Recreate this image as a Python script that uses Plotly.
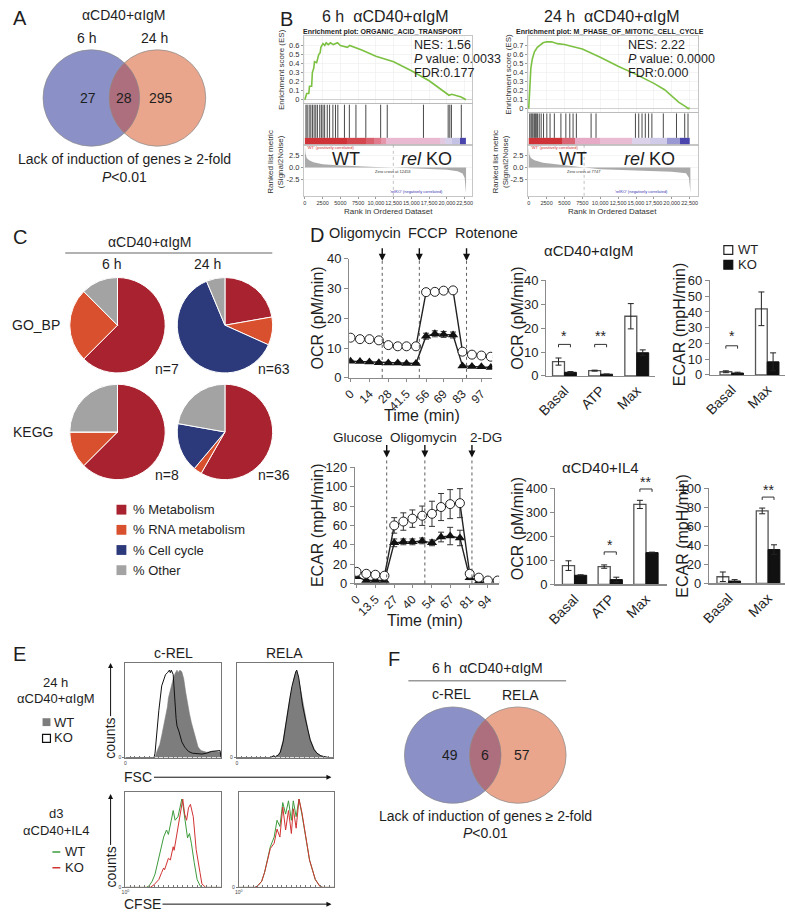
import numpy as np
import plotly.graph_objects as go

W, H = 785, 920
FONT = "Liberation Sans, Arial, Helvetica, sans-serif"
NARROW = "Liberation Sans Narrow, Liberation Sans, Arial, sans-serif"
INK = "#1e1e1e"
AXC = "#8a8a8a"

# ======================= DATA =======================
# (A) Venn
a_title = "αCD40+αIgM"
a_sets = ["6 h", "24 h"]
a_counts = [27, 28, 295]
venn_caption = ["Lack of induction of genes ≥ 2-fold", "<i>P</i><0.01"]

# (B) GSEA left
b1_title = "6 h  αCD40+αIgM"
b1_set = "Enrichment plot: ORGANIC_ACID_TRANSPORT"
b1_stats = ["NES: 1.56", "<i>P</i> value: 0.0033", "FDR:0.177"]
b1_rank = [0, 250, 550, 650, 950, 1050, 1250, 1350, 1650, 1750, 1950, 2150, 2250, 2550, 2800,
           3000, 3300, 3600, 4000, 4600, 5000, 6000, 6300, 8000, 10000, 12500, 15000, 17500,
           19500, 20300, 20700, 22000, 22700]
b1_es = [0, 0.07, 0.07, 0.15, 0.15, 0.30, 0.35, 0.42, 0.41, 0.45, 0.50, 0.52, 0.58, 0.62, 0.60,
         0.63, 0.61, 0.63, 0.61, 0.63, 0.60, 0.58, 0.60, 0.55, 0.48, 0.42, 0.32, 0.21,
         0.10, 0.05, 0.06, 0.03, 0.0]
b1_hits = [150, 320, 600, 830, 1060, 1300, 1530, 1760, 2090, 2320, 2550, 2780, 3150, 3480, 3940,
           4310, 4640, 5570, 6260, 7190, 8580, 10670, 11600, 16700, 20180, 20410, 20640, 22030]
b1_mrank = [0, 80, 250, 600, 1200, 2500, 5000, 7500, 10000, 12453, 15000, 17500, 20000, 21500,
            22200, 22500, 22650, 22700]
b1_metric = [4.5, 3.0, 2.0, 1.5, 1.1, 0.7, 0.4, 0.2, 0.08, 0.0, -0.15, -0.3, -0.5, -0.8,
             -1.3, -2.2, -4.5, -5.5]
b1_zero = 12453
b1_es_ticks = [0, 0.1, 0.2, 0.3, 0.4, 0.5, 0.6]

# (B) GSEA right
b2_title = "24 h  αCD40+αIgM"
b2_set = "Enrichment plot: M_PHASE_OF_MITOTIC_CELL_CYCLE"
b2_stats = ["NES: 2.22", "<i>P</i> value: 0.0000", "FDR:0.000"]
b2_rank = [0, 150, 300, 500, 800, 1200, 1600, 2000, 2500, 3200, 4000, 5000, 6500, 7500, 10000,
           12500, 15000, 17500, 19000, 20000, 21000, 22000, 22300, 22500]
b2_es = [0, 0.30, 0.45, 0.55, 0.63, 0.68, 0.71, 0.73, 0.74, 0.74, 0.72, 0.71, 0.68, 0.66, 0.57,
         0.47, 0.38, 0.28, 0.21, 0.14, 0.07, 0.02, 0.0, 0.01]
b2_hits = [140, 320, 460, 600, 780, 920, 1060, 1240, 1470, 1740, 2070, 2530, 2980, 3580, 4500,
           5190, 5740, 6200, 6660, 8720, 9410, 14920, 15380, 15840, 16300, 16760, 17220, 18820,
           20660, 21810, 22270]
b2_mrank = [0, 80, 300, 800, 2000, 4000, 6000, 7747, 10000, 15000, 20000, 22000, 22400, 22550, 22600]
b2_metric = [4.5, 2.8, 2.0, 1.5, 1.0, 0.6, 0.25, 0.0, -0.4, -0.7, -0.9, -1.2, -2.2, -4.5, -5.5]
b2_zero = 7747
b2_es_ticks = [0, 0.1, 0.2, 0.3, 0.4, 0.5, 0.6, 0.7]

gsea_xticks = [0, 2500, 5000, 7500, 10000, 12500, 15000, 17500, 20000, 22500]
gsea_xlabels = ["0", "2500", "5000", "7500", "10,000", "12,500", "15,000", "17,500", "20,000", "22,500"]
metric_ticks = [2.5, 0.0, -2.5]
metric_labels = ["2.5", "0.0", "-2.5"]

# (C) pies
pie_title = "αCD40+αIgM"
pie_labels = ["% Metabolism", "% RNA metabolism", "% Cell cycle", "% Other"]
pie_gobp_6h = [62.5, 25.0, 0.0, 12.5]
pie_gobp_24h = [22.2, 9.5, 61.9, 6.3]
pie_kegg_6h = [62.5, 12.5, 0.0, 25.0]
pie_kegg_24h = [58.3, 2.8, 16.7, 22.2]
pie_n = ["n=7", "n=63", "n=8", "n=36"]
pie_rows = ["GO_BP", "KEGG"]
pie_cols = ["6 h", "24 h"]

# (D) Seahorse traces
ocr_time = [0, 7, 14, 21, 28, 35, 41.5, 48.5, 56, 62.5, 69, 76, 83, 90, 97, 104]
ocr_ticks = [0, 14, 28, 41.5, 56, 69, 83, 97]
ocr_wt = [13.5, 13.0, 13.0, 12.6, 11.0, 10.6, 10.6, 10.6, 28.8, 28.9, 29.3, 29.4, 8.8, 7.8, 7.5, 7.1]
ocr_wt_err = [0.5, 0.4, 0.4, 0.4, 0.4, 0.4, 0.4, 0.4, 0.8, 0.6, 0.8, 0.9, 0.5, 0.4, 0.4, 0.3]
ocr_ko = [5.6, 5.5, 5.3, 5.1, 5.0, 5.0, 4.8, 4.8, 14.0, 14.8, 14.6, 14.4, 4.0, 3.8, 3.7, 3.5]
ocr_ko_err = [0.3, 0.3, 0.3, 0.3, 0.3, 0.3, 0.3, 0.3, 1.0, 1.0, 1.0, 1.0, 0.3, 0.3, 0.3, 0.3]
ocr_inject = ["Oligomycin", "FCCP", "Rotenone"]
ocr_inject_t = [23.5, 51, 86]

ecar_time = [0, 7, 13.5, 20, 27, 33.5, 40, 47, 54, 60.5, 67, 74, 81, 87.5, 94, 101]
ecar_ticks = [0, 13.5, 27, 40, 54, 67, 81, 94]
ecar_wt = [12, 10, 9, 8, 60, 64, 67, 70, 72, 79, 82, 83, 10, 6, 3, 3]
ecar_wt_err = [3, 2, 2, 2, 8, 9, 9, 10, 13, 14, 15, 15, 3, 2, 1, 1]
ecar_ko = [7, 3, 3, 3, 42, 43, 43, 44, 42, 48, 49, 47, 6, 2, 0, 0]
ecar_ko_err = [1, 1, 1, 1, 4, 3, 3, 3, 3, 5, 9, 8, 2, 1, 0.5, 0.5]
ecar_inject = ["Glucose", "Oligomycin", "2-DG"]
ecar_inject_t = [21.6, 48.9, 82.6]

# (D) bar summaries
cats_ocr = ["Basal", "ATP", "Max"]
cats_ecar = ["Basal", "Max"]
igm_ocr_wt = [6.0, 2.2, 25.0]
igm_ocr_wt_err = [1.5, 0.2, 5.3]
igm_ocr_ko = [1.5, 0.7, 9.7]
igm_ocr_ko_err = [0.3, 0.1, 1.2]
igm_ecar_wt = [2.0, 42.0]
igm_ecar_wt_err = [0.6, 10.7]
igm_ecar_ko = [1.2, 8.3]
igm_ecar_ko_err = [0.5, 5.7]
il4_ocr_wt = [78, 74, 332]
il4_ocr_wt_err = [20, 7, 17]
il4_ocr_ko = [38, 20, 132]
il4_ocr_ko_err = [2, 10, 2]
il4_ecar_wt = [7, 76]
il4_ecar_wt_err = [5, 3]
il4_ecar_ko = [2.5, 35.5]
il4_ecar_ko_err = [1.5, 5]
igm_ocr_sig = [(0, "*"), (1, "**")]
igm_ecar_sig = [(0, "*")]
il4_ocr_sig = [(1, "*"), (2, "**")]
il4_ecar_sig = [(1, "**")]

# (E) flow histograms (relative channel 0-100, normalised counts)
crel_fsc_wt_x = [0, 31, 33, 36, 38, 40, 42, 44, 45, 48, 50, 52, 54, 55, 57, 59, 61, 63, 65, 67, 69, 71, 73, 76, 79, 85, 90, 95, 99, 100]
crel_fsc_wt_y = [0, 0, 0.07, 0.15, 0.25, 0.36, 0.46, 0.58, 0.68, 0.82, 0.9, 0.96, 1.0, 0.97, 1.0, 0.98, 0.9, 0.75, 0.6, 0.5, 0.4, 0.32, 0.22, 0.12, 0.08, 0.06, 0.07, 0.07, 0.06, 0]
crel_fsc_ko_x = [0, 30, 31, 33, 35, 38, 40, 42, 44, 46, 47, 48, 50, 51, 52, 53, 54, 56, 59, 62, 66, 70, 80, 85, 90, 95, 99, 100]
crel_fsc_ko_y = [0, 0, 0.05, 0.3, 0.54, 0.82, 0.9, 0.95, 0.97, 1.0, 0.97, 1.0, 0.95, 0.75, 0.6, 0.45, 0.36, 0.3, 0.18, 0.12, 0.07, 0.05, 0.04, 0.05, 0.07, 0.08, 0.08, 0]
rela_fsc_x = [0, 35, 38, 40, 43, 45, 48, 50, 53, 55, 57, 59, 61, 62, 64, 66, 68, 71, 74, 76, 80, 83, 87, 90, 95, 100]
rela_fsc_wt = [0, 0, 0.02, 0.01, 0.03, 0.07, 0.2, 0.36, 0.55, 0.68, 0.8, 0.9, 0.97, 1.0, 0.9, 0.78, 0.62, 0.46, 0.3, 0.21, 0.1, 0.05, 0.02, 0.01, 0, 0]
rela_fsc_ko = [0, 0, 0.02, 0.01, 0.03, 0.06, 0.18, 0.34, 0.54, 0.68, 0.81, 0.91, 0.98, 1.0, 0.92, 0.77, 0.6, 0.44, 0.28, 0.2, 0.09, 0.05, 0.02, 0.01, 0, 0]
crel_cfse_wt_x = [0, 22, 25, 28, 31, 33, 35, 37, 40, 43, 45, 48, 50, 52, 55, 57, 59, 60, 62, 65, 67, 69, 72, 75, 78, 80, 100]
crel_cfse_wt_y = [0, 0, 0.02, 0.07, 0.15, 0.24, 0.33, 0.43, 0.57, 0.65, 0.6, 0.76, 0.87, 0.76, 0.8, 0.9, 1.0, 0.95, 0.78, 0.56, 0.61, 0.5, 0.28, 0.09, 0.02, 0, 0]
crel_cfse_ko_x = [0, 26, 30, 35, 38, 40, 41, 43, 45, 47, 50, 51, 53, 55, 57, 60, 62, 64, 66, 68, 71, 74, 78, 80, 84, 100]
crel_cfse_ko_y = [0, 0, 0.03, 0.09, 0.17, 0.22, 0.2, 0.27, 0.33, 0.31, 0.46, 0.42, 0.55, 0.65, 0.83, 1.0, 0.83, 0.76, 0.9, 0.94, 0.8, 0.43, 0.17, 0.04, 0, 0]
rela_cfse_x = [0, 17, 20, 24, 27, 30, 33, 37, 40, 43, 46, 49, 52, 55, 57, 60, 63, 66, 69, 74, 80, 85, 88, 100]
rela_cfse_wt = [0, 0, 0.02, 0.07, 0.17, 0.3, 0.46, 0.57, 0.76, 0.69, 0.96, 0.83, 0.98, 0.76, 0.98, 0.8, 1.0, 0.83, 0.65, 0.31, 0.09, 0.01, 0, 0]
rela_cfse_ko = [0, 0, 0.02, 0.07, 0.17, 0.3, 0.44, 0.5, 0.66, 0.57, 0.91, 0.65, 0.87, 0.61, 0.89, 0.67, 1.0, 0.85, 0.65, 0.31, 0.09, 0.01, 0, 0]

# (F) Venn
f_title = "6 h  αCD40+αIgM"
f_sets = ["c-REL", "RELA"]
f_counts = [49, 6, 57]

# ======================= STYLE =======================
BLUE, SALMON, OVER = "#8b91c7", "#e9a68d", "#ad6e7d"
PIE_COLORS = ["#a8232f", "#d8502d", "#2c3a7c", "#a3a3a3"]
ES_GREEN = "#7cc142"
b1_band_end = [6000, 8600, 9800, 10800, 11400, 19000, 19700, 20800, 21800, 22700]
b1_band_col = ["#cf3337", "#d4474e", "#d9606d", "#df7b8c", "#e596ab", "#e9b9d1", "#e3c9df", "#d6d0ea", "#c3c1e4", "#4a45ad"]
b2_band_end = [4600, 6400, 10000, 14460, 17000, 19300, 21100, 22500]
b2_band_col = ["#cf3337", "#da6575", "#e6a9c6", "#e9bcd4", "#dcd2ea", "#cfcbe8", "#9a98d2", "#4a45ad"]

fig = go.Figure()
LAY = dict(width=W, height=H, autosize=False, margin=dict(l=0, r=0, t=0, b=0),
           paper_bgcolor="white", plot_bgcolor="white", showlegend=False,
           hovermode=False, barmode="overlay", font=dict(family=FONT, color=INK, size=12))
ANN, SHP = [], []


def px(x):
    return x / W


def py(y):
    return 1 - y / H


def dx(a, b):
    return [a / W, b / W]


def dy(t, b):
    return [1 - b / H, 1 - t / H]


def XA(i):
    return "xaxis" if i == 1 else f"xaxis{i}"


def YA(i):
    return "yaxis" if i == 1 else f"yaxis{i}"


def XR(i):
    return "x" if i == 1 else f"x{i}"


def YR(i):
    return "y" if i == 1 else f"y{i}"


def txt(x, y, s, size=14, color=INK, xanchor="center", yanchor="middle", angle=0, family=FONT):
    ANN.append(dict(x=px(x), y=py(y), xref="paper", yref="paper", text=s, showarrow=False,
                    font=dict(family=family, size=size, color=color),
                    xanchor=xanchor, yanchor=yanchor, textangle=angle))


def set_axes(i, xdom, ydom, xopt, yopt):
    base = dict(showgrid=False, zeroline=False, showline=False, ticks="", fixedrange=True)
    xd = dict(base, domain=dx(*xdom), anchor=YR(i))
    xd.update(xopt)
    yd = dict(base, domain=dy(*ydom), anchor=XR(i))
    yd.update(yopt)
    LAY[XA(i)] = xd
    LAY[YA(i)] = yd


# ---------------- Venn ----------------
def venn(cx1, cx2, cy, r, counts):
    for cx, col in ((cx1, BLUE), (cx2, SALMON)):
        SHP.append(dict(type="circle", xref="paper", yref="paper", x0=px(cx - r), x1=px(cx + r),
                        y0=py(cy + r), y1=py(cy - r), fillcolor=col, line=dict(width=0)))
    d = cx2 - cx1
    a = d / 2.0
    h = np.sqrt(r * r - a * a)
    t = np.arctan2(h, a)
    pts = [(cx1 + r * np.cos(q), cy + r * np.sin(q)) for q in np.linspace(-t, t, 60)]
    pts += [(cx2 + r * np.cos(q), cy + r * np.sin(q)) for q in np.linspace(np.pi - t, np.pi + t, 60)]
    path = "M" + "L".join(f"{px(x):.5f},{py(y):.5f}" for x, y in pts) + "Z"
    SHP.append(dict(type="path", xref="paper", yref="paper", path=path, fillcolor=OVER, line=dict(width=0)))
    for cx in (cx1, cx2):
        SHP.append(dict(type="circle", xref="paper", yref="paper", x0=px(cx - r), x1=px(cx + r),
                        y0=py(cy + r), y1=py(cy - r), fillcolor="rgba(0,0,0,0)",
                        line=dict(width=0.7, color="#8a8a8a")))
    txt(cx1 - 3, cy, str(counts[0]))
    txt((cx2 - r + cx1 + r) / 2.0, cy, str(counts[1]))
    txt(cx2 + 4, cy, str(counts[2]))


# Panel A
txt(9, 11, "A", size=20)
txt(115, 8, a_title)
txt(77, 32, a_sets[0])
txt(146, 32, a_sets[1])
venn(81.5, 148.5, 92.5, 49, a_counts)
txt(115, 155, venn_caption[0])
txt(115, 173, venn_caption[1])

# Panel F
txt(388, 663, "F", size=20)
txt(483, 672, f_title)
SHP.append(dict(type="line", xref="paper", yref="paper", x0=px(403), x1=px(563), y0=py(685), y1=py(685),
                line=dict(color="#999", width=1.5)))
txt(447, 698, f_sets[0])
txt(517, 699, f_sets[1])
venn(448, 514, 760.5, 49, f_counts)
txt(481, 822, venn_caption[0])
txt(481, 840, venn_caption[1])


# ---------------- GSEA ----------------
def gsea(i, Lx, Rx, es_top, es_bot, hits_top, bar_top, met_top, met_bot, rank, es, es_range, es_ticks,
         hits, mrank, metric, zero, band_end, band_col, xmax):
    xrng = [-150, xmax]
    box = dict(showline=True, mirror=True, linecolor="#b8b8b8", linewidth=0.8)
    grid = dict(showgrid=True, gridcolor="#ededed", gridwidth=0.6)
    set_axes(i, (Lx, Rx), (es_top, es_bot),
             dict(box, **grid, range=xrng, tickvals=gsea_xticks, showticklabels=False),
             dict(box, **grid, range=es_range, tickvals=es_ticks,
                  ticktext=["0" if v == 0 else f"{v:.1f}" for v in es_ticks],
                  tickfont=dict(size=7.5, color="#333"), ticks="outside", ticklen=2, tickcolor="#999",
                  zeroline=True, zerolinecolor="#c4c4c4", zerolinewidth=0.8))
    set_axes(i + 1, (Lx, Rx), (hits_top, met_top),
             dict(box, range=xrng, showticklabels=False),
             dict(box, range=[0, 1], showticklabels=False))
    set_axes(i + 2, (Lx, Rx), (met_top, met_bot),
             dict(box, range=xrng, tickvals=gsea_xticks, ticktext=gsea_xlabels, ticks="outside",
                  tickangle=0, ticklen=2, tickcolor="#999",
                  tickfont=dict(size=5.5, family=NARROW, color="#333")),
             dict(box, **grid, range=[-6, 4.8], tickvals=metric_ticks, ticktext=metric_labels,
                  ticks="outside", ticklen=2, tickcolor="#999", tickfont=dict(size=7.5, color="#333")))
    fig.add_trace(go.Scatter(x=rank, y=es, mode="lines", line=dict(color=ES_GREEN, width=1.6),
                             xaxis=XR(i), yaxis=YR(i)))
    frac = (met_top - bar_top) / (met_top - hits_top)
    hx, hy = [], []
    for hpos in hits:
        hx += [hpos, hpos, None]
        hy += [frac, 1, None]
    fig.add_trace(go.Scatter(x=hx, y=hy, mode="lines", line=dict(color="#1a1a1a", width=0.8),
                             xaxis=XR(i + 1), yaxis=YR(i + 1)))
    edges = np.arange(0, band_end[-1] + 1, 100)
    centers = (edges[:-1] + edges[1:]) / 2.0
    idx = np.searchsorted(np.array(band_end), centers)
    n = len(band_col)
    cs = []
    for k, c in enumerate(band_col):
        cs.append([k / n, c])
        cs.append([(k + 1) / n, c])
    fig.add_trace(go.Heatmap(x=edges, y=[0, frac], z=[idx.tolist()], colorscale=cs, zmin=-0.5,
                             zmax=n - 0.5, showscale=False, xaxis=XR(i + 1), yaxis=YR(i + 1)))
    fig.add_trace(go.Scatter(x=mrank, y=metric, mode="lines", fill="tozeroy", fillcolor="#aaaaaa",
                             line=dict(width=0, color="#aaaaaa"), xaxis=XR(i + 2), yaxis=YR(i + 2)))
    SHP.append(dict(type="line", xref=XR(i + 2), yref=f"{YR(i + 2)} domain", x0=zero, x1=zero, y0=0, y1=1,
                    line=dict(color="#999", width=0.6, dash="dot")))
    for x, y, s, col, xa in ((zero, -0.8, f"Zero cross at {zero}", "#333", "center"),
                              (0, 4.3, "'WT' (positively correlated)", "#d03030", "left"),
                              (19700, -5.0, "'relKO' (negatively correlated)", "#3535b0", "right")):
        ANN.append(dict(x=x, y=y, xref=XR(i + 2), yref=YR(i + 2), text=s, showarrow=False,
                        font=dict(size=4, color=col), xanchor=xa, yanchor="middle"))


gsea(1, 297, 468, 29, 98, 99, 133, 140, 192, b1_rank, b1_es, [-0.04, 0.71], b1_es_ticks,
     b1_hits, b1_mrank, b1_metric, b1_zero, b1_band_end, b1_band_col, 23600)
gsea(4, 524, 697, 29, 107, 108, 133, 140, 192, b2_rank, b2_es, [-0.04, 0.81], b2_es_ticks,
     b2_hits, b2_mrank, b2_metric, b2_zero, b2_band_end, b2_band_col, 23700)

txt(279, 12, "B", size=20)
txt(380, 10, b1_title, size=16)
txt(609, 10, b2_title, size=16)
txt(377, 25, "<b>" + b1_set + "</b>", size=7)
txt(608, 25, "<b>" + b2_set + "</b>", size=7)
for k, s in enumerate(b1_stats):
    txt(407, 39 + 14 * k, s, size=12.5, xanchor="left")
for k, s in enumerate(b2_stats):
    txt(624, 39 + 14 * k, s, size=12.5, xanchor="left")
txt(340, 155, "WT", size=18)
txt(421, 155, "<i>rel</i> KO", size=18)
txt(570, 155, "WT", size=18)
txt(648, 155, "<i>rel</i> KO", size=18)
txt(275, 64, "Enrichment score (ES)", size=8, angle=-90, color="#333")
txt(505, 68, "Enrichment score (ES)", size=8, angle=-90, color="#333")
txt(268, 157, "Ranked list metric<br>(Signal2Noise)", size=8, angle=-90, color="#333")
txt(496, 157, "Ranked list metric<br>(Signal2Noise)", size=8, angle=-90, color="#333")
txt(383, 208, "Rank in Ordered Dataset", size=8, color="#333")
txt(610, 208, "Rank in Ordered Dataset", size=8, color="#333")

# ---------------- Panel C pies ----------------
txt(9, 234, "C", size=20)
txt(141, 239, pie_title)
SHP.append(dict(type="line", xref="paper", yref="paper", x0=px(55), x1=px(265), y0=py(250), y1=py(250),
                line=dict(color="#999", width=1.5)))
txt(102, 261, pie_cols[0])
txt(199, 261, pie_cols[1])
txt(25, 323, pie_rows[0])
txt(22, 432, pie_rows[1])
pie_sets = [(pie_gobp_6h, 108, 323.5), (pie_gobp_24h, 217, 323.5), (pie_kegg_6h, 108, 432),
            (pie_kegg_24h, 217, 432)]
for k, (vals, cx, cy) in enumerate(pie_sets):
    r = 48.5
    fig.add_trace(go.Pie(values=vals, labels=pie_labels, sort=False, direction="clockwise", rotation=0,
                         marker=dict(colors=PIE_COLORS, line=dict(color="white", width=1)),
                         textinfo="none", hoverinfo="skip",
                         domain=dict(x=dx(cx - r, cx + r), y=dy(cy - r, cy + r))))
    txt(cx + 50, cy + 44, pie_n[k])
for k, lab in enumerate(pie_labels):
    yy = 511 + 20.5 * k
    SHP.append(dict(type="rect", xref="paper", yref="paper", x0=px(107), x1=px(117), y0=py(yy + 5),
                    y1=py(yy - 5), fillcolor=PIE_COLORS[k], line=dict(width=0)))
    txt(122, yy, lab, size=13, xanchor="left")

# ---------------- Panel D ----------------
txt(310, 232, "D", size=20)


def line_panel(i, xdom, ydom, t, wt, wte, ko, koe, ticks, xrng, yrng, dtick):
    set_axes(i, xdom, ydom,
             dict(range=xrng, tickvals=ticks, ticktext=[f"{v:g}" for v in ticks], tickangle=-45,
                  showline=True, linecolor=AXC, linewidth=1.2, ticks="outside", ticklen=3,
                  tickcolor=AXC, tickfont=dict(size=12)),
             dict(range=yrng, dtick=dtick, showline=True, linecolor=AXC, linewidth=1.2, ticks="outside",
                  ticklen=4, tickcolor=AXC, tickfont=dict(size=13)))
    fig.add_trace(go.Scatter(x=t, y=ko, mode="lines+markers", line=dict(color="#222", width=1.4),
                             marker=dict(symbol="triangle-up", size=9, color="#111"),
                             error_y=dict(type="data", array=koe, color="#333", thickness=1, width=3),
                             xaxis=XR(i), yaxis=YR(i)))
    fig.add_trace(go.Scatter(x=t, y=wt, mode="lines+markers", line=dict(color="#222", width=1.4),
                             marker=dict(symbol="circle", size=9, color="white", line=dict(color="#222", width=1)),
                             error_y=dict(type="data", array=wte, color="#333", thickness=1, width=3),
                             xaxis=XR(i), yaxis=YR(i)))


line_panel(7, (343, 488), (256, 377), ocr_time, ocr_wt, ocr_wt_err, ocr_ko, ocr_ko_err, ocr_ticks,
           [-1, 105], [0, 40], 10)
line_panel(8, (349, 495), (468, 586), ecar_time, ecar_wt, ecar_wt_err, ecar_ko, ecar_ko_err, ecar_ticks,
           [-1, 102], [0, 120], 20)


def injections(i, names, times, label_x, label_y, tip_y, bottom_y, size):
    for nm, tt, lx in zip(names, times, label_x):
        txt(lx, label_y, nm, size=size)
        ANN.append(dict(x=tt, y=py(tip_y), xref=XR(i), yref="paper", text="", showarrow=True,
                        ax=0, ay=-14, arrowhead=2, arrowsize=1, arrowwidth=1.4, arrowcolor="#111"))
        SHP.append(dict(type="line", xref=XR(i), yref="paper", x0=tt, x1=tt, y0=py(bottom_y), y1=py(tip_y),
                        line=dict(color="#333", width=0.8, dash="dot")))


injections(7, ocr_inject, ocr_inject_t, [359, 422, 482], 230, 258, 377, 14.5)
injections(8, ecar_inject, ecar_inject_t, [352, 418, 482], 438, 458, 586, 13.5)
txt(311, 316, "OCR (pM/min)", size=16, angle=-90)
txt(311, 527, "ECAR (mpH/min)", size=16, angle=-90)
txt(417, 415, "Time (min)", size=16)
txt(420, 624, "Time (min)", size=16)


def bar_panel(i, xdom, ydom, cats, wt, wte, ko, koe, xrng, yrng, dtick, w, sig, br_y, st_y):
    xs = list(range(len(cats)))
    set_axes(i, xdom, ydom,
             dict(range=xrng, tickvals=xs, ticktext=cats, tickangle=-45, showline=True, linecolor=AXC,
                  linewidth=1.2, tickfont=dict(size=14)),
             dict(range=yrng, dtick=dtick, showline=True, linecolor=AXC, linewidth=1.2, ticks="outside",
                  ticklen=4, tickcolor=AXC, tickfont=dict(size=13)))
    fig.add_trace(go.Bar(x=xs, y=wt, width=w, offset=-w, marker=dict(color="white", line=dict(color="#555", width=1.3)),
                         error_y=dict(type="data", array=wte, color="#222", thickness=1, width=3),
                         xaxis=XR(i), yaxis=YR(i)))
    fig.add_trace(go.Bar(x=xs, y=ko, width=w, offset=0, marker=dict(color="#111", line=dict(color="#111", width=1)),
                         error_y=dict(type="data", array=koe, color="#222", thickness=1, width=3),
                         xaxis=XR(i), yaxis=YR(i)))
    tick = 0.03 * (yrng[1] - yrng[0])
    ydomain = dy(*ydom)
    for (c, s), by, sy in zip(sig, br_y, st_y):
        fig.add_trace(go.Scatter(x=[c - w / 2, c - w / 2, c + w / 2, c + w / 2], y=[by - tick, by, by, by - tick],
                                 mode="lines", line=dict(color="#333", width=1), xaxis=XR(i), yaxis=YR(i),
                                 cliponaxis=False))
        frac = (sy - yrng[0]) / (yrng[1] - yrng[0])
        ANN.append(dict(x=c, y=ydomain[0] + frac * (ydomain[1] - ydomain[0]), xref=XR(i), yref="paper",
                        text=s, showarrow=False, font=dict(size=14, color=INK),
                        xanchor="center", yanchor="middle"))


bar_panel(9, (543, 653), (278, 375), cats_ocr, igm_ocr_wt, igm_ocr_wt_err, igm_ocr_ko, igm_ocr_ko_err,
          [-0.5, 2.5], [0, 40], 10, 0.33, igm_ocr_sig, [13.2, 13.2], [16.8, 16.8])
bar_panel(10, (709, 785), (278, 374), cats_ecar, igm_ecar_wt, igm_ecar_wt_err, igm_ecar_ko, igm_ecar_ko_err,
          [-0.61, 1.5], [0, 60], 10, 0.33, igm_ecar_sig, [18.5], [25])
bar_panel(11, (552, 665), (489, 587), cats_ocr, il4_ocr_wt, il4_ocr_wt_err, il4_ocr_ko, il4_ocr_ko_err,
          [-0.54, 2.58], [0, 400], 100, 0.34, il4_ocr_sig, [135, 396], [163, 425])
bar_panel(12, (708, 785), (489, 586), cats_ecar, il4_ecar_wt, il4_ecar_wt_err, il4_ecar_ko, il4_ecar_ko_err,
          [-0.5, 1.43], [0, 100], 20, 0.3, il4_ecar_sig, [90.5], [98])

txt(586, 248, "αCD40+αIgM", size=15)
txt(598, 468, "αCD40+IL4", size=15)
txt(514, 316, "OCR (pM/min)", size=16, angle=-90)
txt(678, 322, "ECAR (mpH/min)", size=16, angle=-90)
txt(514, 530, "OCR (pM/min)", size=16, angle=-90)
txt(681, 537, "ECAR (mpH/min)", size=16, angle=-90)
SHP.append(dict(type="rect", xref="paper", yref="paper", x0=px(723), x1=px(732), y0=py(251.5), y1=py(242.5),
                fillcolor="white", line=dict(color="#222", width=1.2)))
txt(735, 247, "WT", size=13, xanchor="left")
SHP.append(dict(type="rect", xref="paper", yref="paper", x0=px(723), x1=px(732), y0=py(266.5), y1=py(257.5),
                fillcolor="#111", line=dict(color="#111", width=1.2)))
txt(735, 262, "KO", size=13, xanchor="left")


# ---------------- Panel E ----------------
def hist_panel(i, xdom, ydom, curves, xlab):
    set_axes(i, xdom, ydom,
             dict(range=[0, 100], showline=True, mirror=True, linecolor="#777", linewidth=1,
                  tickvals=[0], ticktext=[xlab], ticks="inside", ticklen=2,
                  tickcolor="#777", tickfont=dict(size=5, color="#444"),
                  minor=dict(tick0=0, dtick=5, ticks="inside", ticklen=2, tickcolor="#777")),
             dict(range=[0, 1.08], showline=True, mirror=True, linecolor="#777", linewidth=1,
                  tickvals=[0], ticktext=["0"], ticks="outside", ticklen=2, tickcolor="#777",
                  tickfont=dict(size=5, color="#444")))
    for x, y, kind in curves:
        if kind == "fill":
            fig.add_trace(go.Scatter(x=x, y=y, mode="lines", fill="tozeroy", fillcolor="#7d7d7d",
                                     line=dict(color="#7d7d7d", width=0.6), xaxis=XR(i), yaxis=YR(i)))
        else:
            fig.add_trace(go.Scatter(x=x, y=y, mode="lines", line=dict(color=kind, width=1),
                                     xaxis=XR(i), yaxis=YR(i)))


hist_panel(13, (116, 213), (667, 763), [(crel_fsc_wt_x, crel_fsc_wt_y, "fill"),
                                         (crel_fsc_ko_x, crel_fsc_ko_y, "#111")], "0")
hist_panel(14, (229, 327), (667, 763), [(rela_fsc_x, rela_fsc_wt, "fill"),
                                         (rela_fsc_x, rela_fsc_ko, "#111")], "0")
hist_panel(15, (116, 213), (798, 895), [(crel_cfse_wt_x, crel_cfse_wt_y, "#3d9b3d"),
                                         (crel_cfse_ko_x, crel_cfse_ko_y, "#d23232")], "10<sup>0</sup>")
hist_panel(16, (231, 328), (798, 895), [(rela_cfse_x, rela_cfse_wt, "#3d9b3d"),
                                         (rela_cfse_x, rela_cfse_ko, "#d23232")], "10<sup>0</sup>")

txt(9, 658, "E", size=20)
txt(165, 657, "c-REL")
txt(277, 657, "RELA")
txt(45, 687, "24 h", size=13)
txt(46, 703, "αCD40+αIgM", size=13)
SHP.append(dict(type="rect", xref="paper", yref="paper", x0=px(32), x1=px(40), y0=py(731), y1=py(723),
                fillcolor="#7d7d7d", line=dict(width=0)))
txt(42, 727, "WT", size=13, xanchor="left")
SHP.append(dict(type="rect", xref="paper", yref="paper", x0=px(32), x1=px(40), y0=py(747.5), y1=py(739.5),
                fillcolor="white", line=dict(color="#111", width=1.2)))
txt(42, 743, "KO", size=13, xanchor="left")
txt(46, 820, "d3", size=13)
txt(46, 837, "αCD40+IL4", size=13)
SHP.append(dict(type="line", xref="paper", yref="paper", x0=px(42), x1=px(50), y0=py(859), y1=py(859),
                line=dict(color="#3d9b3d", width=1.5)))
txt(53, 859, "WT", size=13, xanchor="left")
SHP.append(dict(type="line", xref="paper", yref="paper", x0=px(42), x1=px(50), y0=py(875), y1=py(875),
                line=dict(color="#d23232", width=1.5)))
txt(53, 875, "KO", size=13, xanchor="left")
for ty, tip in ((742, 667), (873, 800)):
    ANN.append(dict(x=px(101), y=py(tip), xref="paper", yref="paper", text="counts", showarrow=True,
                    ax=0, ay=ty - tip, textangle=-90, font=dict(family=FONT, size=14, color=INK),
                    arrowhead=2, arrowsize=1, arrowwidth=1, arrowcolor="#111", standoff=0))
for lab, ly, lx in (("FSC", 783, 132), ("CFSE", 912, 136)):
    ANN.append(dict(x=px(325), y=py(ly), xref="paper", yref="paper", text=lab, showarrow=True,
                    ax=lx - 325, ay=0, font=dict(family=FONT, size=14, color=INK),
                    arrowhead=2, arrowsize=1, arrowwidth=1, arrowcolor="#111"))

LAY["annotations"] = ANN
LAY["shapes"] = SHP
fig.update_layout(**LAY)
fig.write_html("out.html", config={"displayModeBar": False, "staticPlot": True},
               post_script="document.body.style.margin='0px';document.body.style.overflow='hidden';")
